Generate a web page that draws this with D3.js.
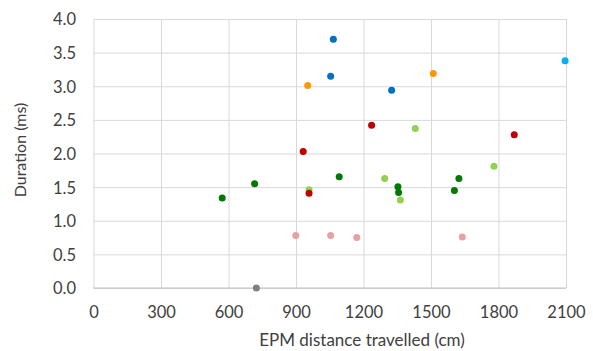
<!DOCTYPE html>
<html>
<head>
<meta charset="utf-8">
<script src="https://cdn.jsdelivr.net/npm/d3@7"></script>
<style>
  html, body { margin: 0; padding: 0; background: #fff; }
  svg { display: block; }
  text { font-family: Lato, "Open Sans", sans-serif; fill: #404040; }
</style>
</head>
<body>
<svg id="chart" width="593" height="351"></svg>
<script>
// ---- data ----
const xTicks = [0, 300, 600, 900, 1200, 1500, 1800, 2100];
const yTicks = [0, 0.5, 1.0, 1.5, 2.0, 2.5, 3.0, 3.5, 4.0];

const seriesNames = ["gray", "pink", "darkGreen", "lightGreen", "red", "orange", "blue", "cyan"];
const seriesColors = ["#808080", "#E6A1A1", "#007A00", "#92D050", "#C00000", "#FF9900", "#0070C0", "#00B0F0"];

const grayX = [724];
const grayY = [0.0];
const pinkX = [899, 1054, 1170, 1639];
const pinkY = [0.78, 0.78, 0.75, 0.76];
const darkGreenX = [572, 716, 1092, 1353, 1356, 1604, 1624];
const darkGreenY = [1.34, 1.55, 1.655, 1.505, 1.42, 1.45, 1.63];
const lightGreenX = [1430, 1780, 1294, 1364, 958];
const lightGreenY = [2.37, 1.81, 1.63, 1.31, 1.46];
const redX = [932, 1236, 1870, 958];
const redY = [2.03, 2.42, 2.28, 1.41];
const orangeX = [952, 1510];
const orangeY = [3.01, 3.19];
const blueX = [1066, 1054, 1325];
const blueY = [3.70, 3.15, 2.94];
const cyanX = [2096];
const cyanY = [3.38];

const xTitle = "EPM distance travelled (cm)";
const yTitle = "Duration (ms)";

// ---- build ----
const seriesX = [grayX, pinkX, darkGreenX, lightGreenX, redX, orangeX, blueX, cyanX];
const seriesY = [grayY, pinkY, darkGreenY, lightGreenY, redY, orangeY, blueY, cyanY];
const series = seriesNames.map((name, i) => ({
  name, color: seriesColors[i],
  points: seriesX[i].map((x, j) => ({ x, y: seriesY[i][j] }))
}));

const svg = d3.select("#chart");
const margin = { top: 19, right: 27, bottom: 63, left: 93.5 };
const W = 593, H = 351;
const x = d3.scaleLinear().domain([0, 2100]).range([margin.left, W - margin.right]);
const y = d3.scaleLinear().domain([0, 4]).range([H - margin.bottom, margin.top]);

// vertical gridlines
const gx = svg.append("g")
  .attr("transform", `translate(0,${margin.top})`)
  .call(d3.axisBottom(x).tickValues(xTicks).tickSize(H - margin.bottom - margin.top).tickFormat(""));
gx.select(".domain").remove();
gx.selectAll("line").attr("stroke", "#D9D9D9").attr("stroke-width", 1);

// horizontal gridlines
const gy = svg.append("g")
  .attr("transform", `translate(${margin.left},0)`)
  .call(d3.axisRight(y).tickValues(yTicks).tickSize(W - margin.right - margin.left).tickFormat(""));
gy.select(".domain").remove();
gy.selectAll("line").attr("stroke", "#D9D9D9").attr("stroke-width", 1);

// baseline axis line
svg.append("line")
  .attr("x1", margin.left).attr("x2", W - margin.right)
  .attr("y1", y(0)).attr("y2", y(0))
  .attr("stroke", "#BFBFBF").attr("stroke-width", 1);

// x tick labels
const xa = svg.append("g")
  .attr("transform", `translate(0,${y(0)})`)
  .call(d3.axisBottom(x).tickValues(xTicks).tickSize(0).tickPadding(0).tickFormat(d3.format("d")));
xa.select(".domain").remove();
xa.selectAll("text")
  .attr("y", 30).attr("dy", null)
  .style("font-size", "16.5px").style("fill", "#404040");

// y tick labels
const ya = svg.append("g")
  .attr("transform", `translate(${margin.left},0)`)
  .call(d3.axisLeft(y).tickValues(yTicks).tickSize(0).tickPadding(0).tickFormat(d3.format(".1f")));
ya.select(".domain").remove();
ya.selectAll("text")
  .attr("x", -17.5).attr("dy", "0.36em")
  .style("font-size", "16.5px").style("fill", "#404040");

// titles
svg.append("text")
  .attr("x", 362).attr("y", 346)
  .attr("text-anchor", "middle")
  .style("font-size", "17px")
  .text(xTitle);

svg.append("text")
  .attr("transform", `translate(26,150) rotate(-90)`)
  .attr("text-anchor", "middle")
  .style("font-size", "16px")
  .text(yTitle);

// points
const g = svg.append("g");
series.forEach(s => {
  g.selectAll(null)
    .data(s.points)
    .enter().append("circle")
    .attr("cx", d => x(d.x))
    .attr("cy", d => y(d.y))
    .attr("r", 3.5)
    .attr("fill", s.color);
});
</script>
</body>
</html>
